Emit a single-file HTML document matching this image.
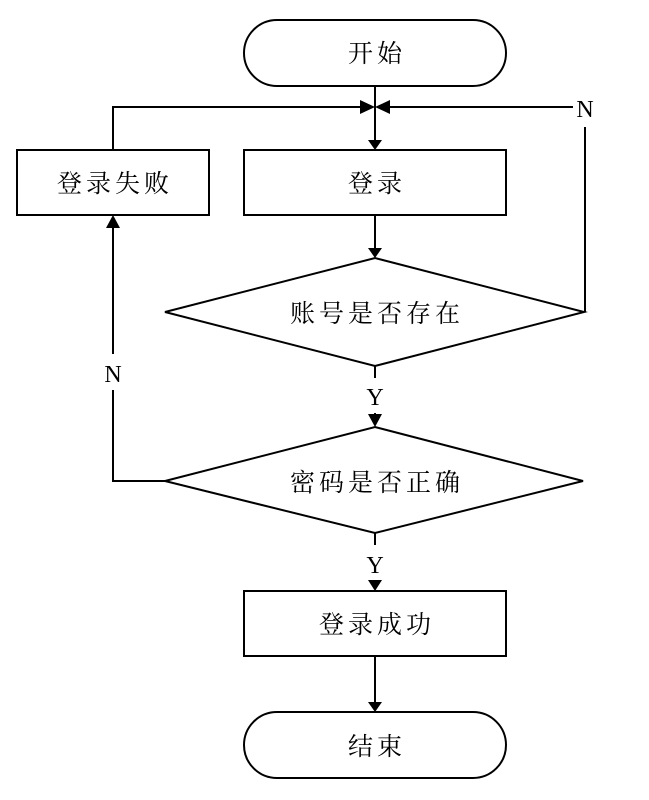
<!DOCTYPE html>
<html><head><meta charset="utf-8"><style>
html,body{margin:0;padding:0;background:#fff;}
svg text{font-family:"Liberation Serif","Noto Serif CJK SC",serif;fill:#000;}
</style></head><body>
<svg width="649" height="795" viewBox="0 0 649 795" xmlns="http://www.w3.org/2000/svg">
<g stroke="#000" stroke-width="2" fill="none">
<rect x="244" y="20" width="262" height="66" rx="33"/>
<rect x="244" y="150" width="262" height="65"/>
<rect x="17" y="150" width="192" height="65"/>
<polygon points="165,312 375,258 584,312 375,366"/>
<polygon points="165,481 375,427 583,481 375,533"/>
<rect x="244" y="591" width="262" height="65"/>
<rect x="244" y="712" width="262" height="66" rx="33"/>
<line x1="375" y1="86" x2="375" y2="140"/>
<polyline points="113,150 113,107 362,107"/>
<polyline points="585,312 585,127"/>
<line x1="388" y1="107" x2="573" y2="107"/>
<line x1="375" y1="215" x2="375" y2="248"/>
<line x1="375" y1="366" x2="375" y2="378"/>
<line x1="375" y1="413" x2="375" y2="418"/>
<polyline points="165,481 113,481 113,390"/>
<line x1="113" y1="354" x2="113" y2="226"/>
<line x1="375" y1="533" x2="375" y2="545"/>
<line x1="375" y1="656" x2="375" y2="702"/>
</g>
<g fill="#000">
<polygon points="368,140 382,140 375,150"/>
<polygon points="360,100 360,114 375,107"/>
<polygon points="390,100 390,114 375,107"/>
<polygon points="368,248 382,248 375,258"/>
<polygon points="368,414 382,414 375,427"/>
<polygon points="106,228 120,228 113,215"/>
<polygon points="368,580 382,580 375,591"/>
<polygon points="368,702 382,702 375,712"/>
</g>
<g font-size="25" text-anchor="middle" letter-spacing="4">
<text x="377" y="62">开始</text>
<text x="377" y="192">登录</text>
<text x="115" y="192">登录失败</text>
<text x="377" y="322">账号是否存在</text>
<text x="377" y="491">密码是否正确</text>
<text x="377" y="633">登录成功</text>
<text x="377" y="755">结束</text>
</g>
<g font-size="24" text-anchor="middle">
<text x="585" y="117">N</text>
<text x="113" y="382">N</text>
<text x="375" y="405">Y</text>
<text x="375" y="573">Y</text>
</g>
</svg>
</body></html>
